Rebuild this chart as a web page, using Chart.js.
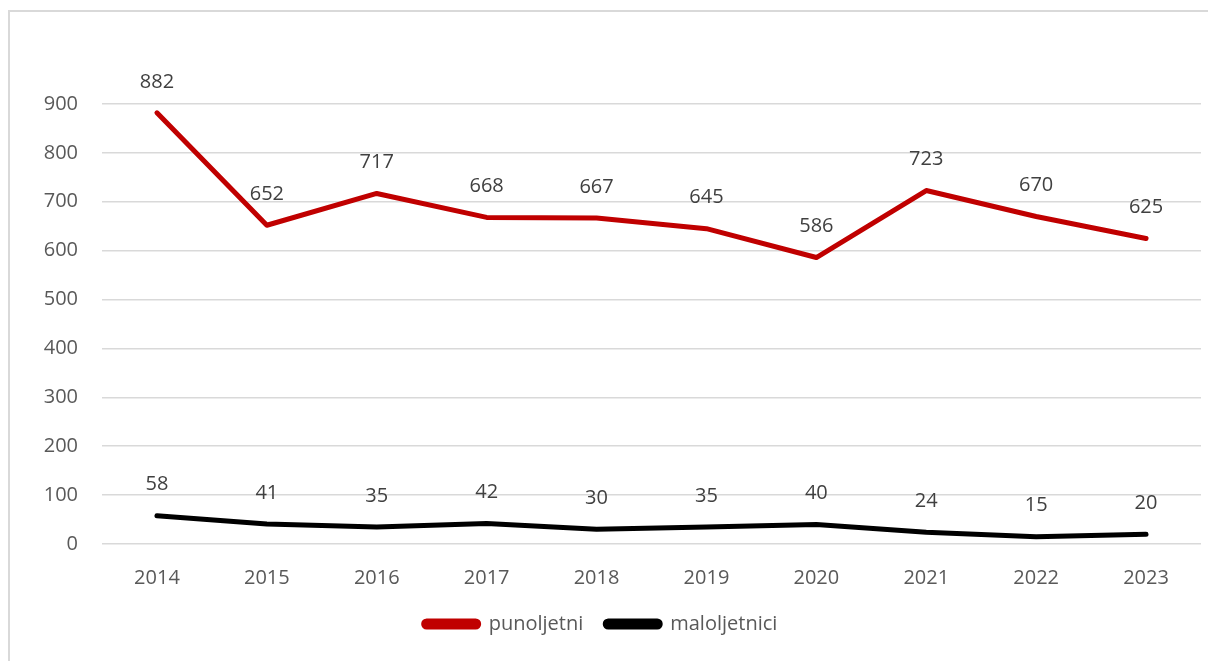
<!DOCTYPE html>
<html>
<head>
<meta charset="utf-8">
<script src="https://cdn.jsdelivr.net/npm/chart.js@4"></script>
<style>
  html, body { margin: 0; padding: 0; background: #fff; overflow: hidden; }
  #frame { position: absolute; left: 8px; top: 10px; width: 1260px; height: 720px; border: 2px solid #d9d9d9; box-sizing: border-box; }
  #wrap { position: absolute; left: 0; top: 0; width: 1208px; height: 661px; }
</style>
</head>
<body>
<div id="frame"></div>
<div id="wrap"><canvas id="chart"></canvas></div>
<script>
// values
const years = ['2014', '2015', '2016', '2017', '2018', '2019', '2020', '2021', '2022', '2023'];
const punoljetni = [882, 652, 717, 668, 667, 645, 586, 723, 670, 625];
const maloljetnici = [58, 41, 35, 42, 30, 35, 40, 24, 15, 20];
const yTicks = [0, 100, 200, 300, 400, 500, 600, 700, 800, 900];

const fontFamily = '"Open Sans", sans-serif';

// draws the value above every point, like the Excel data labels
const valueLabels = {
    id: 'valueLabels',
    afterDatasetsDraw(chart) {
        const ctx = chart.ctx;
        ctx.save();
        ctx.font = '20px ' + fontFamily;
        ctx.fillStyle = '#404040';
        ctx.textAlign = 'center';
        ctx.textBaseline = 'middle';
        chart.data.datasets.forEach((ds, i) => {
            const meta = chart.getDatasetMeta(i);
            meta.data.forEach((pt, j) => {
                ctx.fillText(String(ds.data[j]), pt.x, pt.y - 31);
            });
        });
        ctx.restore();
    }
};

const ctx = document.getElementById('chart').getContext('2d');
new Chart(ctx, {
    type: 'line',
    data: {
        labels: years,
        datasets: [
            { label: 'punoljetni', data: punoljetni, borderColor: '#c00000', backgroundColor: '#c00000', borderWidth: 5 },
            { label: 'maloljetnici', data: maloljetnici, borderColor: '#000000', backgroundColor: '#000000', borderWidth: 5 }
        ]
    },
    options: {
        responsive: true,
        maintainAspectRatio: false,
        animation: false,
        elements: {
            line: { tension: 0, borderCapStyle: 'round', borderJoinStyle: 'round' },
            point: { radius: 0, hoverRadius: 0 }
        },
        layout: { padding: { left: 0, right: 7, top: 104, bottom: 17 } },
        plugins: {
            tooltip: { enabled: false },
            legend: {
                position: 'bottom',
                labels: {
                    boxWidth: 55,
                    boxHeight: 6,
                    useBorderRadius: true,
                    borderRadius: 3,
                    padding: 22,
                    color: '#595959',
                    font: { family: fontFamily, size: 20 }
                }
            }
        },
        scales: {
            x: {
                offset: true,
                grid: { display: false, drawTicks: false },
                border: { display: false },
                ticks: { color: '#595959', padding: 22, font: { family: fontFamily, size: 20 } },
                afterFit(scale) { scale.height = 48; }
            },
            y: {
                min: 0,
                max: 900,
                afterBuildTicks(scale) { scale.ticks = yTicks.map(v => ({ value: v })); },
                grid: { color: '#d9d9d9', lineWidth: 1.5, drawTicks: false },
                border: { display: false },
                ticks: { color: '#595959', padding: 24, font: { family: fontFamily, size: 20 } },
                afterFit(scale) { scale.width = 102; }
            }
        }
    },
    plugins: [valueLabels]
});
</script>
</body>
</html>
